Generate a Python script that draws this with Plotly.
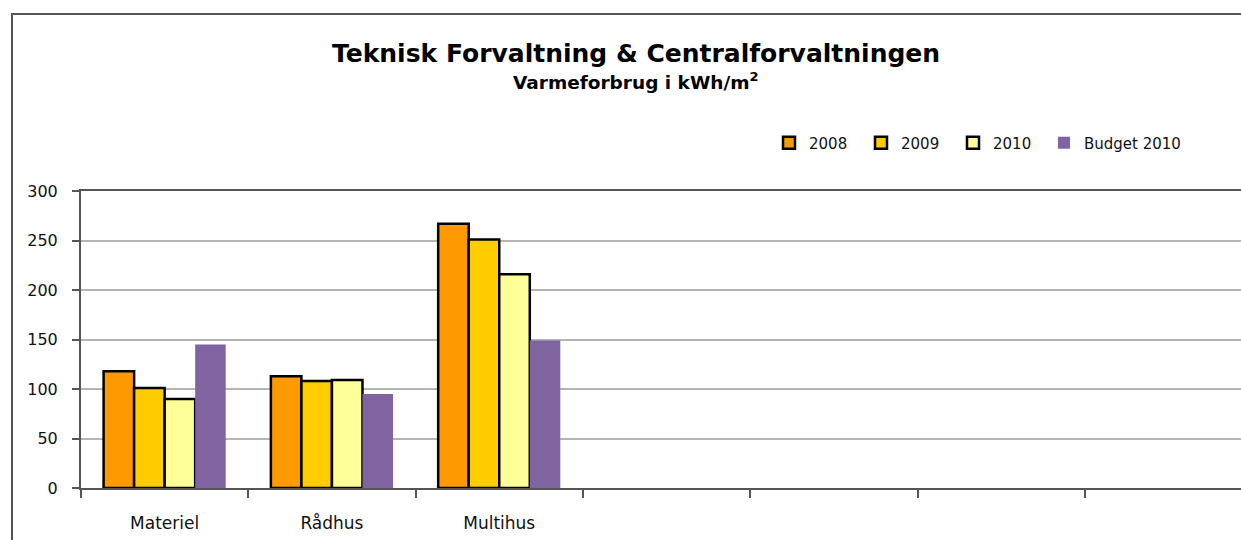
import plotly.graph_objects as go

categories = ["Materiel", "Rådhus", "Multihus"]
v2008 = [118, 113, 267]
v2009 = [101, 108, 251]
v2010 = [90, 109, 216]
budget2010 = [145, 95, 149]
series_names = ["2008", "2009", "2010", "Budget 2010"]
y_ticks = [0, 50, 100, 150, 200, 250, 300]

colors = ["#FF9900", "#FFCC00", "#FFFF99", "#8064A2"]
x_pos = list(range(len(categories)))

W, H = 1241, 540
L, T, B = 81, 191, 52
plot_w = W - L
plot_h = H - T - B
cat_px = 167.3
FONT = "DejaVu Sans, Verdana, sans-serif"

def px_x(px):
    return (px - L) / plot_w

def px_y(py):
    return (H - B - py) / plot_h

legend_ids = ["legend", "legend2", "legend3", "legend4"]
legend_left_px = [769, 861, 953, 1044]

fig = go.Figure()
for name, vals, col, lg in zip(series_names, [v2008, v2009, v2010, budget2010], colors, legend_ids):
    outline = 0 if name.startswith("Budget") else 2.5
    fig.add_trace(go.Bar(
        name=name, x=x_pos, y=vals, legend=lg,
        marker=dict(color=col, line=dict(color="#000000", width=outline)),
    ))

legend_style = dict(
    orientation="h", xanchor="left", y=px_y(143), yanchor="middle",
    font=dict(size=15, color="#111111", family=FONT), itemwidth=30,
    bgcolor="rgba(0,0,0,0)",
)
legend_layout = {lg: dict(legend_style, x=px_x(lx)) for lg, lx in zip(legend_ids, legend_left_px)}

fig.update_layout(
    width=W, height=H,
    margin=dict(l=L, r=0, t=T, b=B, pad=0),
    paper_bgcolor="white", plot_bgcolor="white",
    barmode="group", bargap=0.27, bargroupgap=0,
    font=dict(family=FONT, color="#111111"),
    showlegend=True,
    xaxis=dict(
        range=[-0.5, -0.5 + plot_w / cat_px],
        tickmode="array", tickvals=x_pos, ticktext=categories,
        ticks="", showgrid=False, zeroline=False,
        showline=True, linecolor="#555555", linewidth=2, mirror=True,
        tickfont=dict(size=17, color="#111111"),
        ticklabelstandoff=19,
        minor=dict(tickmode="array", tickvals=[i - 0.5 for i in range(7)],
                   ticks="outside", ticklen=8, tickwidth=2, tickcolor="#555555",
                   showgrid=False),
        fixedrange=True,
    ),
    yaxis=dict(
        range=[0, 300], tickmode="array", tickvals=y_ticks,
        ticks="outside", ticklen=7, tickwidth=1.5, tickcolor="#555555",
        showgrid=True, gridcolor="#B4B4B4", gridwidth=2,
        showline=True, linecolor="#555555", linewidth=2,
        zeroline=False,
        tickfont=dict(size=16, color="#111111"),
        ticklabelstandoff=11,
        fixedrange=True,
    ),
    shapes=[dict(
        type="rect", xref="paper", yref="paper",
        x0=px_x(12), x1=1.2, y0=-0.5, y1=px_y(14),
        line=dict(color="#555555", width=2), fillcolor="rgba(0,0,0,0)", layer="below",
    )],
    annotations=[
        dict(text="<b>Teknisk Forvaltning & Centralforvaltningen</b>",
             xref="paper", yref="paper", x=px_x(636), y=px_y(70),
             xanchor="center", yanchor="bottom", showarrow=False,
             font=dict(size=25, color="#000000", family=FONT)),
        dict(text="<b>Varmeforbrug i kWh/m<sup>2</sup></b>",
             xref="paper", yref="paper", x=px_x(636), y=px_y(95),
             xanchor="center", yanchor="bottom", showarrow=False,
             font=dict(size=18.5, color="#000000", family=FONT)),
    ],
    **legend_layout,
)

fig.write_html("out.html", config={"displayModeBar": False},
               post_script="document.body.style.margin='0';document.body.style.padding='0';")
